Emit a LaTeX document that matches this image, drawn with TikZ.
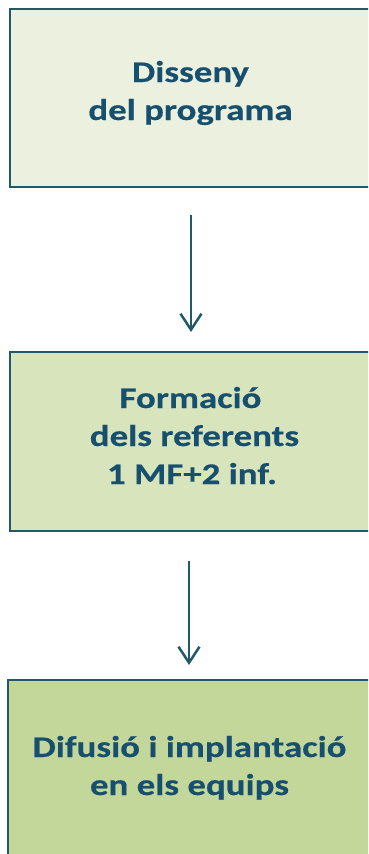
\documentclass[tikz,border=0pt]{standalone}
\usepackage{fontspec}
\newfontfamily\boxfont{Carlito}[FakeStretch=1.23,FakeBold=0.4]
\usetikzlibrary{arrows.meta}
\definecolor{fillA}{HTML}{EBF1DE}
\definecolor{fillB}{HTML}{D8E4BC}
\definecolor{fillC}{HTML}{C4D79B}
\definecolor{edgeC}{HTML}{215968}
\definecolor{textC}{HTML}{174F6F}
\tikzset{
  stagebox/.style={draw=edgeC, line width=1.5pt, rectangle, inner sep=0pt},
  stagetext/.style={align=center, text=textC, anchor=base, inner sep=0pt,
    font=\boxfont\bfseries\fontsize{30pt}{38pt}\selectfont},
  flowarrow/.style={draw=edgeC, line width=2.5pt,
    -{Straight Barb[length=16pt,width=21pt]}}
}
\begin{document}
\begin{tikzpicture}[x=1pt,y=-1pt]
\useasboundingbox (0,0) rectangle (368,854);
\clip (0,0) rectangle (368,854);
\node[stagebox, fill=fillA, minimum width=361pt, minimum height=178pt] (b1) at (190.5,98) {};
\node[stagebox, fill=fillB, minimum width=361pt, minimum height=179pt] (b2) at (190.5,441.5) {};
\node[stagebox, fill=fillC, minimum width=363pt, minimum height=220pt] (b3) at (189.5,790) {};
\node[stagetext] (t1) at (190.5,120) {Disseny\\del programa};
\node[stagetext] (t2) at (190.5,484) {Formació\hspace{8pt}\\\hspace{8pt}dels referents\\\hspace{3pt}1 MF+2 inf.};
\node[stagetext] (t3) at (189.5,795) {Difusió i implantació\\en els equips};
\coordinate (a1s) at (191,215);
\coordinate (a1e) at (191,332);
\coordinate (a2s) at (189,561);
\coordinate (a2e) at (189,665);
\draw[flowarrow] (a1s) -- (a1e);
\draw[flowarrow] (a2s) -- (a2e);
\end{tikzpicture}
\end{document}
